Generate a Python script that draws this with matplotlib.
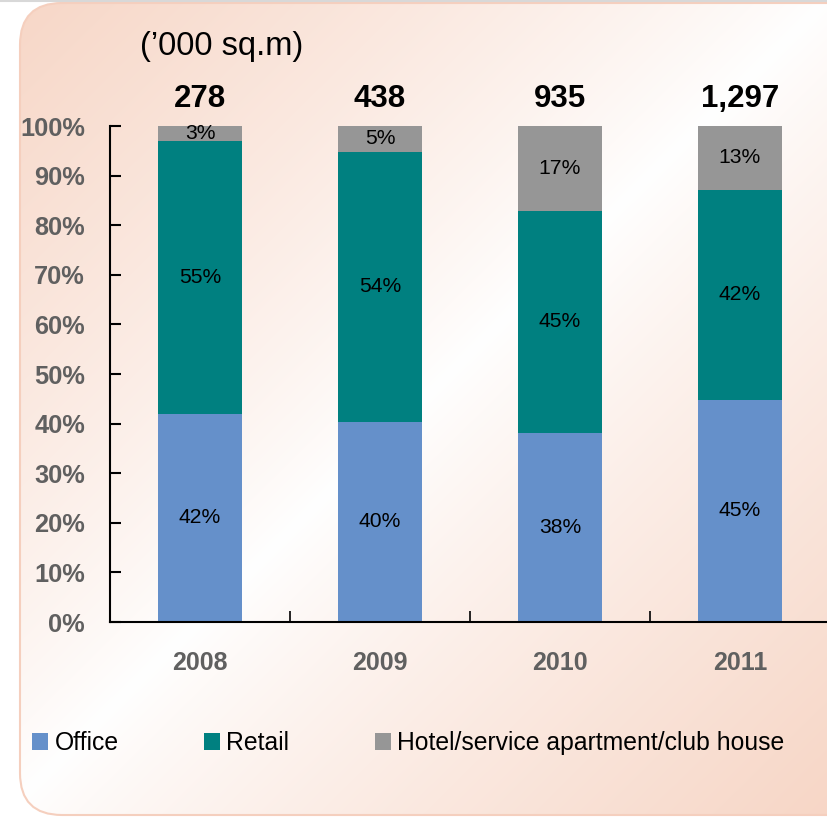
import numpy as np
import matplotlib.pyplot as plt
from matplotlib.patches import FancyBboxPatch

plt.rcParams['font.family'] = ['Liberation Sans', 'DejaVu Sans']

# Data (share of GFA, %)
years = ["2008", "2009", "2010", "2011"]
totals = ["278", "438", "935", "1,297"]
office = [42.0, 40.4, 38.1, 44.8]
retail = [55.0, 54.4, 44.8, 42.3]
hotel = [3.0, 5.2, 17.1, 12.9]
series_names = ["Office", "Retail", "Hotel/service apartment/club house"]
colors = ["#6590CA", "#008080", "#969696"]

W, H = 827, 817
fig = plt.figure(figsize=(W / 100, H / 100), dpi=100)

# Background: rounded box with a diagonal peach/white gradient
bg = fig.add_axes([0, 0, 1, 1], zorder=-5)
bg.set_xlim(0, W)
bg.set_ylim(H, 0)
bg.axis('off')
yy, xx = np.mgrid[0:H, 0:W]
t = np.abs(xx / W + yy / H - 1.0)
t = np.clip(t, 0, 1) ** 0.85
peach = np.array([247, 214, 198]) / 255.0
img = 1.0 - t[..., None] * (1.0 - peach)
im = bg.imshow(img, extent=(0, W, H, 0), aspect='auto')
box = FancyBboxPatch((20, 3), 850, 812, boxstyle="round,pad=0,rounding_size=42",
                     facecolor='none', edgecolor='#F5CFBE', linewidth=1.5,
                     transform=bg.transData)
bg.add_patch(box)
im.set_clip_path(box)
bg.plot([0, W], [0.8, 0.8], color='#D8D8D8', lw=1.5)

# Main chart
ax = fig.add_axes([110 / W, 1 - 622 / H, 720 / W, 496 / H])
ax.patch.set_alpha(0)
x = np.arange(len(years))
width = 0.47

bottom = np.zeros(len(years))
containers = []
for vals, name, col in zip([office, retail, hotel], series_names, colors):
    bc = ax.bar(x, vals, width, bottom=bottom, color=col, label=name)
    ax.bar_label(bc, labels=[f"{v:.0f}%" for v in vals], label_type='center',
                 fontsize=15.2, color='black')
    containers.append(bc)
    bottom = bottom + np.array(vals)

for i, tot in enumerate(totals):
    ax.text(x[i], 105.4, tot, ha='center', va='center', fontsize=22.5,
            fontweight='bold', color='black', clip_on=False)

ax.set_xlim(-0.5, 3.5)
ax.set_ylim(0, 100)
ax.set_yticks(np.arange(0, 101, 10))
ax.set_yticklabels([f"{v}%" for v in range(0, 101, 10)])
ax.set_xticks(x)
ax.set_xticklabels(years)
ax.set_xticks(x[:-1] + 0.5, minor=True)

for lab in ax.get_yticklabels() + ax.get_xticklabels():
    lab.set_fontweight('bold')
    lab.set_color('#606060')
ax.tick_params(axis='y', direction='in', length=8, width=1.5, pad=18, labelsize=18.3)
ax.tick_params(axis='x', which='major', length=0, pad=21, labelsize=18)
ax.tick_params(axis='x', which='minor', direction='in', length=8, width=1.2)

for s in ['top', 'right']:
    ax.spines[s].set_visible(False)
ax.spines['left'].set_linewidth(1.5)
ax.spines['bottom'].set_linewidth(1.5)

fig.text(140 / W, 1 - 47 / H, "(\u2019000 sq.m)", ha='left', va='center', fontsize=23.5)

fig.legend(handles=containers, labels=series_names, ncol=3, loc='center left',
           bbox_to_anchor=(32 / W, 1 - 743 / H), frameon=False, fontsize=17.8,
           handlelength=0.66, handleheight=0.66, handletextpad=0.25,
           columnspacing=3.45, borderpad=0, borderaxespad=0)

fig.savefig("out.png", dpi=100)
